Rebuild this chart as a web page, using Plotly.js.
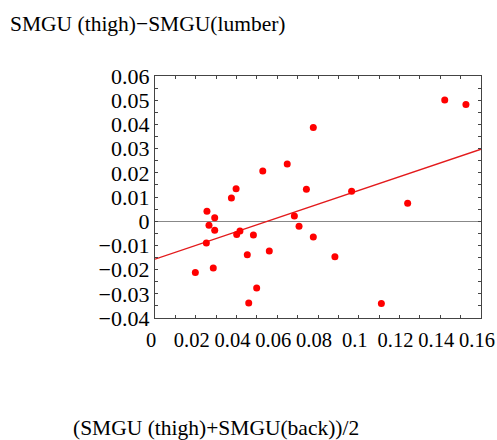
<!DOCTYPE html>
<html>
<head>
<meta charset="utf-8">
<script src="https://cdn.plot.ly/plotly-3.0.1.min.js"></script>
<style>html,body{margin:0;padding:0;background:#fff;}#chart{width:497px;height:440px;}</style>
</head>
<body>
<div id="chart"></div>
<script>
const xVals = [0.0198, 0.0252, 0.0255, 0.0265, 0.0286, 0.0293, 0.0293, 0.0375, 0.0398, 0.0401,
  0.0417, 0.0460, 0.0453, 0.0483, 0.0499, 0.0529, 0.0561, 0.0649, 0.0684, 0.0707,
  0.0743, 0.0777, 0.0777, 0.0883, 0.0965, 0.1111, 0.1240, 0.1422, 0.1526];
const yVals = [-0.0212, -0.0090, 0.0041, -0.0017, -0.0193, 0.0014, -0.0037, 0.0096, 0.0134, -0.0055,
  -0.0041, -0.0338, -0.0139, -0.0057, -0.0276, 0.0207, -0.0123, 0.0236, 0.0022, -0.0021,
  0.0132, 0.0387, -0.0065, -0.0147, 0.0124, -0.0340, 0.0074, 0.0501, 0.0482];
const xTickVals = [0, 0.02, 0.04, 0.06, 0.08, 0.1, 0.12, 0.14, 0.16];
const xTickText = ["0", "0.02", "0.04", "0.06", "0.08", "0.1", "0.12", "0.14", "0.16"];
const yTickVals = [-0.04, -0.03, -0.02, -0.01, 0, 0.01, 0.02, 0.03, 0.04, 0.05, 0.06];
const yTickText = ["\u22120.04", "\u22120.03", "\u22120.02", "\u22120.01", "0", "0.01", "0.02", "0.03", "0.04", "0.05", "0.06"];
const fitRange = [0, 0.16];
const fitIntercept = -0.0157;
const fitSlope = 0.284;
const yTitle = "SMGU (thigh)\u2212SMGU(lumber)";
const xTitle = "(SMGU (thigh)+SMGU(back))/2";

const serif = "'Liberation Serif', 'Times New Roman', serif";
const fitY = fitRange.map(v => fitIntercept + fitSlope * v);

const traces = [
  {x: fitRange, y: fitY, mode: 'lines', line: {color: '#e31a1c', width: 1.3}, hoverinfo: 'skip', cliponaxis: false},
  {x: xVals, y: yVals, mode: 'markers', marker: {color: '#ff0000', size: 7}}
];

const axisCommon = {
  showgrid: false, showline: true, linecolor: '#444', linewidth: 1.2, mirror: 'all',
  ticks: 'inside', ticklen: 3, tickcolor: '#444', tickwidth: 1,
  zeroline: true, zerolinecolor: '#888', zerolinewidth: 1,
  ticklabeloverflow: 'allow'
};

const layout = {
  width: 497, height: 440,
  margin: {l: 155, r: 16, t: 76, b: 122},
  paper_bgcolor: '#fff', plot_bgcolor: '#fff',
  showlegend: false,
  font: {family: serif, color: '#000'},
  title: {text: yTitle, font: {family: serif, size: 21.5, color: '#000'},
    xref: 'container', x: 10/497, xanchor: 'left', yref: 'container', y: 1 - 23/440, yanchor: 'middle'},
  xaxis: Object.assign({}, axisCommon, {range: [0, 0.16], tickmode: 'array', tickvals: xTickVals, ticktext: xTickText,
    tickfont: {family: serif, size: 20.5, color: '#000'},
    ticklabelstandoff: 3, ticklabelshift: -4,
    minor: {dtick: 0.01, tick0: 0, ticks: 'inside', ticklen: 3, tickcolor: '#444'}}),
  yaxis: Object.assign({}, axisCommon, {range: [-0.04, 0.06], tickmode: 'array', tickvals: yTickVals, ticktext: yTickText,
    tickfont: {family: serif, size: 22, color: '#000'},
    ticklabelstandoff: 0,
    minor: {dtick: 0.005, tick0: 0, ticks: 'inside', ticklen: 3, tickcolor: '#444'}}),
  annotations: [{text: xTitle, xref: 'paper', yref: 'paper', x: (215.5 - 155) / 326, y: (318 - 428) / 242,
    xanchor: 'center', yanchor: 'middle', showarrow: false, font: {family: serif, size: 21.5, color: '#000'}}]
};

Plotly.newPlot('chart', traces, layout, {displayModeBar: false, staticPlot: true});
</script>
</body>
</html>
